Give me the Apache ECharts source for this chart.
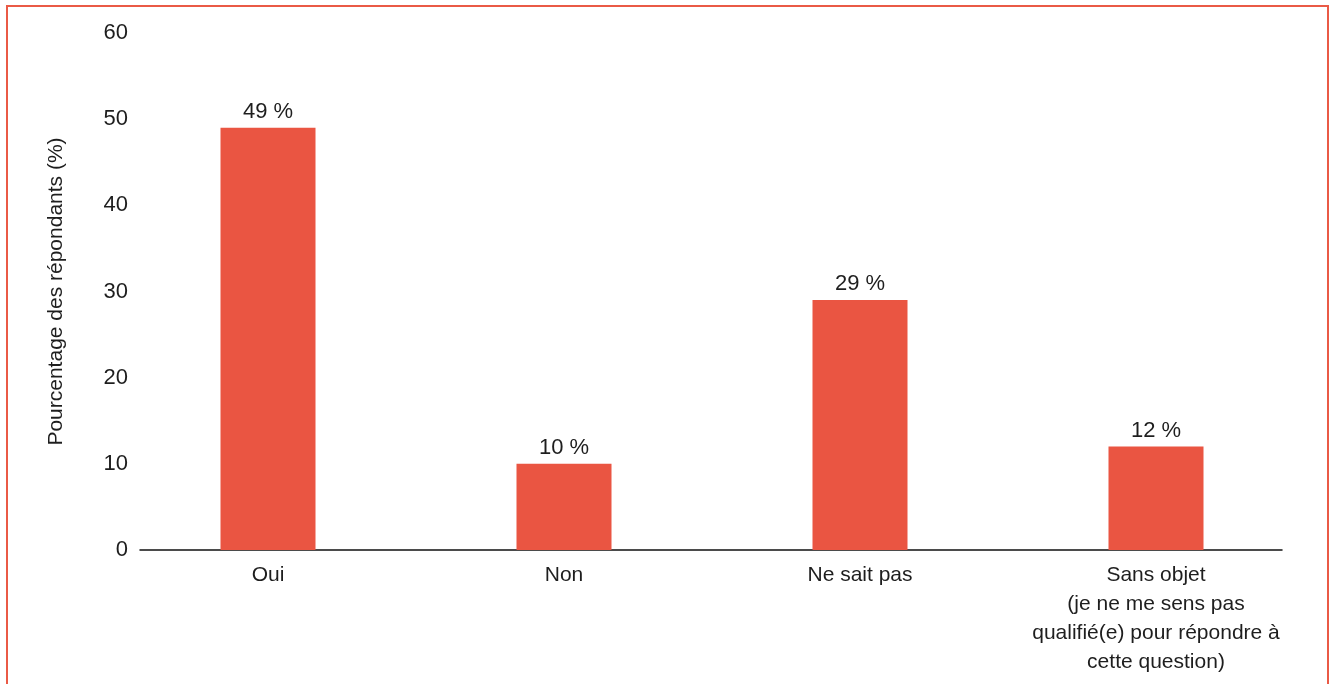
<!DOCTYPE html>
<html>
<head>
<meta charset="utf-8">
<script src="https://cdn.jsdelivr.net/npm/echarts@6/dist/echarts.min.js"></script>
<style>
html,body{margin:0;padding:0;background:#fff;}
#wrap{position:relative;width:1335px;height:684px;overflow:hidden;}
#frame{position:absolute;left:6px;top:5px;width:1323px;height:720px;border:2.5px solid #ea5a46;box-sizing:border-box;}
#chart{position:absolute;left:0;top:0;width:1335px;height:684px;}
</style>
</head>
<body>
<div id="wrap"><div id="frame"></div><div id="chart"></div></div>
<script>
const categories = ['Oui', 'Non', 'Ne sait pas', 'Sans objet\n(je ne me sens pas\nqualifié(e) pour répondre à\ncette question)'];
const values = [49, 10, 29, 12];
const yTicks = [0, 10, 20, 30, 40, 50, 60];
const yAxisTitle = 'Pourcentage des répondants (%)';

const FONT = '"Liberation Sans", Arial, sans-serif';
const TXT = '#1e1e1e';
const chart = echarts.init(document.getElementById('chart'), null, {renderer: 'canvas'});
chart.setOption({
  animation: false,
  backgroundColor: 'transparent',
  grid: [
    {left: 120, width: 1184, top: 33, height: 517, containLabel: false},
    {left: 140, width: 1142, top: 33, height: 517, containLabel: false}
  ],
  xAxis: [
    {
      type: 'category', gridIndex: 0, data: categories,
      axisLine: {show: false}, axisTick: {show: false},
      axisLabel: {color: TXT, fontSize: 21, fontFamily: FONT, lineHeight: 29, margin: 11, interval: 0}
    },
    {
      type: 'value', gridIndex: 1, min: 0, max: 1,
      axisLine: {show: true, onZero: false, lineStyle: {color: '#111', width: 1.5}},
      axisTick: {show: false}, axisLabel: {show: false}, splitLine: {show: false}
    }
  ],
  yAxis: [
    {
      type: 'value', gridIndex: 0, min: yTicks[0], max: yTicks[yTicks.length - 1], interval: 10,
      show: false
    },
    {
      type: 'value', gridIndex: 1, min: yTicks[0], max: yTicks[yTicks.length - 1], interval: 10,
      axisLine: {show: false}, axisTick: {show: false}, splitLine: {show: false},
      axisLabel: {color: TXT, fontSize: 22, fontFamily: FONT, margin: 12},
      name: yAxisTitle, nameLocation: 'middle', nameGap: 73, nameRotate: 90,
      nameTextStyle: {color: TXT, fontSize: 21, fontFamily: FONT}
    }
  ],
  series: [{
    type: 'bar', xAxisIndex: 0, yAxisIndex: 0,
    data: values, barWidth: 95,
    itemStyle: {color: '#ea5542'},
    label: {
      show: true, position: 'top', distance: 5,
      formatter: p => p.value + ' %',
      color: TXT, fontSize: 22, fontFamily: FONT
    }
  }]
});
</script>
</body>
</html>
